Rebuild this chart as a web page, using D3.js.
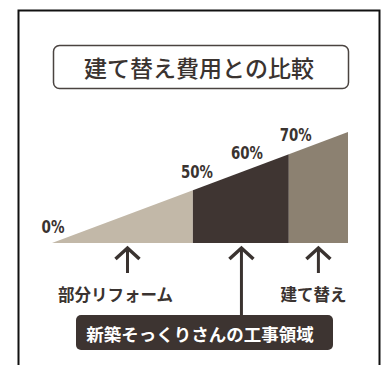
<!DOCTYPE html>
<html>
<head>
<meta charset="utf-8">
<script src="https://cdn.jsdelivr.net/npm/d3@7"></script>
<style>
	body { margin: 0; background: #fff; }
	svg { display: block; }
</style>
</head>
<body>
<svg id="chart"></svg>
<script>
// chart data
const title = "建て替え費用との比較";
const boundaries = [0, 47.6, 80, 100];          // position of segment edges along the wedge
const segColors = ["#c2b8a8", "#3f3532", "#8c8171"];
const pctLabels = ["0%", "50%", "60%", "70%"];
const pctPos = [0, 47.6, 64.5, 81];             // where each % label sits
const arrowPos = [25.5, 64, 90];
const arrowLabels = ["部分リフォーム", "", "建て替え"];
const areaLabel = "新築そっくりさんの工事領域";

const width = 384, height = 365;
const svg = d3.select("#chart").attr("width", width).attr("height", height);

const x = d3.scaleLinear().domain([0, 100]).range([52, 348]);
const y = d3.scaleLinear().domain([0, 100]).range([243, 132]);
const ink = "#3a3330";
const jp = "'Noto Sans CJK JP', 'Noto Sans', sans-serif";

// frame
svg.append("rect")
	.attr("x", 18.5).attr("y", 10.5)
	.attr("width", 361).attr("height", 380)
	.attr("fill", "none").attr("stroke", "#111").attr("stroke-width", 2);

// title box
svg.append("rect")
	.attr("x", 53.5).attr("y", 45.5)
	.attr("width", 295).attr("height", 43).attr("rx", 6)
	.attr("fill", "#fff").attr("stroke", "#4a4340").attr("stroke-width", 1.5);
svg.append("text")
	.attr("x", 199).attr("y", 67)
	.attr("text-anchor", "middle").attr("dominant-baseline", "central")
	.style("font-family", jp).style("font-size", "23px").style("font-weight", 500)
	.attr("fill", ink).text(title);

// wedge segments
const segs = d3.pairs(boundaries).map((p, i) => ({ a: p[0], b: p[1], c: segColors[i] }));
svg.selectAll("path.seg").data(segs).enter().append("path")
	.attr("class", "seg")
	.attr("d", d => `M${x(d.a)},${y(0)}L${x(d.a)},${y(d.a)}L${x(d.b)},${y(d.b)}L${x(d.b)},${y(0)}Z`)
	.attr("fill", d => d.c);

// percent labels (condensed look)
svg.selectAll("text.pct").data(pctLabels).enter().append("text")
	.attr("class", "pct")
	.attr("x", (d, i) => x(pctPos[i]) + (i == 0 ? 1 : 4))
	.attr("y", (d, i) => y(pctPos[i]) - (i == 0 ? 10 : 12))
	.attr("text-anchor", "middle")
	.attr("textLength", d => d.length == 2 ? 23 : 32)
	.attr("lengthAdjust", "spacingAndGlyphs")
	.style("font-family", "'DejaVu Sans', sans-serif")
	.style("font-size", "17px").style("font-weight", "bold")
	.attr("fill", ink).text(d => d);

// arrows
const arrows = svg.selectAll("g.arrow").data(arrowPos).enter().append("g").attr("class", "arrow");
arrows.append("line")
	.attr("x1", d => x(d)).attr("x2", d => x(d))
	.attr("y1", 248).attr("y2", (d, i) => i == 1 ? 316 : 273)
	.attr("stroke", ink).attr("stroke-width", 3);
arrows.append("path")
	.attr("d", d => `M${x(d) - 12},${259}L${x(d)},${248}L${x(d) + 12},${259}`)
	.attr("fill", "none").attr("stroke", ink).attr("stroke-width", 3.5);

svg.selectAll("text.alab").data(arrowLabels).enter().append("text")
	.attr("class", "alab")
	.attr("x", (d, i) => x(arrowPos[i]) + (i == 0 ? -12 : -5))
	.attr("y", 294)
	.attr("text-anchor", "middle").attr("dominant-baseline", "central")
	.style("font-family", jp).style("font-size", "16.5px").style("font-weight", "bold")
	.attr("fill", ink).text(d => d);

// bottom label box
svg.append("rect")
	.attr("x", 76).attr("y", 315)
	.attr("width", 257).attr("height", 35).attr("rx", 5)
	.attr("fill", "#3d3431");
svg.append("text")
	.attr("x", 200).attr("y", 333)
	.attr("text-anchor", "middle").attr("dominant-baseline", "central")
	.style("font-family", jp).style("font-size", "17.5px").style("font-weight", "bold")
	.attr("fill", "#fff").text(areaLabel);
</script>
</body>
</html>
